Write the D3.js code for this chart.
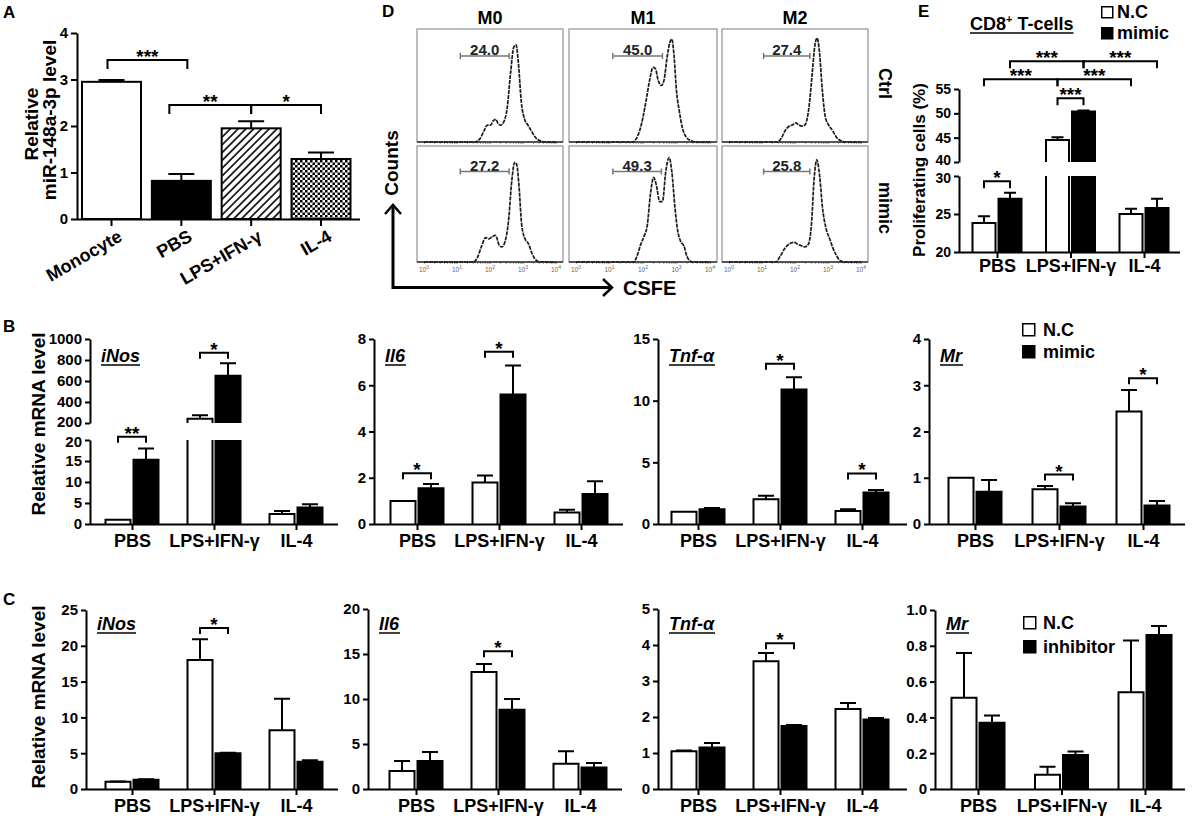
<!DOCTYPE html>
<html>
<head>
<meta charset="utf-8">
<script src="https://cdn.jsdelivr.net/npm/d3@7"></script>
<style>
  body { margin: 0; background: #fff; }
</style>
</head>
<body>
<svg id="fig" width="1192" height="825"></svg>
<script>
"use strict";

// ---------- data ----------
// Panel A: miR-148a-3p level
const aCats = ["Monocyte", "PBS", "LPS+IFN-γ", "IL-4"];
const aVals = [2.95, 0.82, 1.95, 1.29];
const aErrs = [0.04, 0.15, 0.15, 0.14];
const aTicks = [0, 1, 2, 3, 4];

// Panels B, C, E share the treatment groups
const groups = ["PBS", "LPS+IFN-γ", "IL-4"];

// Panel B: N.C vs mimic
const bInosNC = [1.0, 240, 2.4];
const bInosNCErr = [0, 35, 0.7];
const bInosMimic = [15.3, 650, 3.9];
const bInosMimicErr = [2.7, 120, 0.8];

const bIl6NC = [1.0, 1.8, 0.5];
const bIl6NCErr = [0, 0.3, 0.12];
const bIl6Mimic = [1.55, 5.6, 1.3];
const bIl6MimicErr = [0.18, 1.25, 0.55];

const bTnfNC = [1.0, 2.0, 1.05];
const bTnfNCErr = [0, 0.3, 0.15];
const bTnfMimic = [1.2, 10.9, 2.55];
const bTnfMimicErr = [0.1, 1.0, 0.2];

const bMrNC = [1.0, 0.75, 2.43];
const bMrNCErr = [0, 0.07, 0.47];
const bMrMimic = [0.7, 0.38, 0.4];
const bMrMimicErr = [0.25, 0.07, 0.1];

// Panel C: N.C vs inhibitor
const cInosNC = [1.0, 18.0, 8.2];
const cInosNCErr = [0.05, 2.9, 4.4];
const cInosInh = [1.3, 5.0, 3.8];
const cInosInhErr = [0.05, 0.05, 0.2];

const cIl6NC = [2.0, 13.0, 2.8];
const cIl6NCErr = [1.1, 0.9, 1.4];
const cIl6Inh = [3.1, 8.8, 2.4];
const cIl6InhErr = [1.0, 1.2, 0.5];

const cTnfNC = [1.05, 3.55, 2.22];
const cTnfNCErr = [0.02, 0.23, 0.17];
const cTnfInh = [1.15, 1.75, 1.93];
const cTnfInhErr = [0.13, 0.03, 0.04];

const cMrNC = [0.51, 0.08, 0.54];
const cMrNCErr = [0.25, 0.045, 0.29];
const cMrInh = [0.37, 0.19, 0.86];
const cMrInhErr = [0.04, 0.02, 0.05];

// Panel E: proliferating CD8+ T-cells (%)
const eNC = [23.8, 44.5, 25.0];
const eNCErr = [0.9, 0.6, 0.7];
const eMimic = [27.0, 50.4, 25.8];
const eMimicErr = [0.8, 0.2, 1.2];

// Panel D: CFSE histograms, [log10 intensity, relative count]
const dCols = ["M0", "M1", "M2"];
const dRows = ["Ctrl", "mimic"];
const histM0Ctrl = [[0,0],[1.55,0],[1.7,0.03],[1.82,0.1],[1.92,0.15],[2.02,0.15],[2.1,0.19],[2.18,0.2],[2.25,0.16],[2.33,0.15],[2.42,0.18],[2.52,0.3],[2.62,0.6],[2.72,0.84],[2.79,0.86],[2.86,0.7],[2.95,0.35],[3.05,0.2],[3.15,0.15],[3.25,0.1],[3.38,0.04],[3.52,0.01],[3.65,0],[4,0]];
const histM1Ctrl = [[0,0],[1.7,0],[1.8,0.03],[1.9,0.1],[2.0,0.22],[2.1,0.38],[2.2,0.55],[2.3,0.66],[2.37,0.65],[2.45,0.55],[2.55,0.5],[2.63,0.55],[2.72,0.75],[2.8,0.88],[2.86,0.91],[2.93,0.75],[3.0,0.45],[3.08,0.28],[3.18,0.12],[3.3,0.04],[3.45,0.01],[3.55,0],[4,0]];
const histM2Ctrl = [[0,0],[1.45,0],[1.58,0.03],[1.7,0.1],[1.82,0.14],[1.92,0.15],[2.02,0.17],[2.12,0.15],[2.22,0.14],[2.32,0.16],[2.42,0.3],[2.52,0.6],[2.6,0.85],[2.67,0.92],[2.74,0.8],[2.83,0.45],[2.92,0.22],[3.02,0.15],[3.14,0.1],[3.26,0.04],[3.4,0.01],[3.5,0],[4,0]];
const histM0Mimic = [[0,0],[1.5,0],[1.62,0.04],[1.75,0.14],[1.87,0.21],[1.97,0.2],[2.07,0.22],[2.17,0.23],[2.27,0.15],[2.36,0.13],[2.46,0.18],[2.56,0.35],[2.66,0.7],[2.75,0.86],[2.81,0.84],[2.88,0.65],[2.96,0.32],[3.06,0.2],[3.16,0.16],[3.28,0.07],[3.42,0.01],[3.55,0],[4,0]];
const histM1Mimic = [[0,0],[1.72,0],[1.82,0.05],[1.93,0.15],[2.03,0.22],[2.13,0.32],[2.22,0.58],[2.32,0.73],[2.4,0.66],[2.5,0.52],[2.58,0.52],[2.68,0.78],[2.78,0.9],[2.86,0.78],[2.95,0.48],[3.03,0.28],[3.12,0.18],[3.22,0.14],[3.31,0.05],[3.4,0.01],[3.5,0],[4,0]];
const histM2Mimic = [[0,0],[1.42,0],[1.55,0.05],[1.7,0.12],[1.85,0.16],[1.98,0.17],[2.1,0.15],[2.2,0.14],[2.3,0.13],[2.4,0.15],[2.5,0.33],[2.58,0.72],[2.66,0.88],[2.74,0.76],[2.84,0.45],[2.94,0.29],[3.05,0.2],[3.15,0.12],[3.25,0.06],[3.37,0.01],[3.5,0],[4,0]];
const gatePct = [["24.0", "45.0", "27.4"], ["27.2", "49.3", "25.8"]];
const gateRange = [[[1.1, 2.58], [1.1, 2.58], [1.05, 2.45]], [[1.1, 2.58], [1.1, 2.55], [1.05, 2.45]]];
const gateLevel = [0.76, 0.78];

// ---------- helpers ----------
const FONT = "'Liberation Sans', Arial, Helvetica, sans-serif";
const svg = d3.select("#fig");

const defs = svg.append("defs");
const hatch = defs.append("pattern").attr("id", "hatch").attr("patternUnits", "userSpaceOnUse")
  .attr("width", 5.5).attr("height", 5.5).attr("patternTransform", "rotate(45)");
hatch.append("rect").attr("width", 5.5).attr("height", 5.5).attr("fill", "#fff");
hatch.append("line").attr("x1", 1).attr("x2", 1).attr("y1", 0).attr("y2", 5.5)
  .attr("stroke", "#000").attr("stroke-width", 1.6);
const checker = defs.append("pattern").attr("id", "checker").attr("patternUnits", "userSpaceOnUse")
  .attr("width", 5).attr("height", 5);
checker.append("rect").attr("width", 5).attr("height", 5).attr("fill", "#fff");
checker.append("rect").attr("width", 2.5).attr("height", 2.5).attr("fill", "#000");
checker.append("rect").attr("x", 2.5).attr("y", 2.5).attr("width", 2.5).attr("height", 2.5).attr("fill", "#000");

function label(g, txt, x, y, size, opts = {}) {
  const t = g.append("text")
    .attr("x", x).attr("y", y)
    .attr("font-family", FONT).attr("font-size", size).attr("font-weight", "bold")
    .attr("fill", opts.fill || "#000")
    .attr("text-anchor", opts.anchor || "start")
    .text(txt);
  if (opts.rotate) t.attr("transform", `rotate(${opts.rotate},${x},${y})`);
  if (opts.italic) t.attr("font-style", "italic");
  return t;
}

function styleAxis(sel, size) {
  sel.attr("font-family", FONT).attr("font-size", size).attr("font-weight", "bold");
  sel.selectAll("path, line").attr("stroke", "#000").attr("stroke-width", 2);
  sel.selectAll("text").attr("fill", "#000");
}

function bracket(g, x1, x2, yL, leg, txt) {
  g.append("path")
    .attr("d", `M${x1},${yL + leg}V${yL}H${x2}V${yL + leg}`)
    .attr("fill", "none").attr("stroke", "#000").attr("stroke-width", 2);
  label(g, txt, (x1 + x2) / 2, yL + 3, 19, { anchor: "middle" });
}

function underlinedLabel(g, txt, x, y, size, italic) {
  const t = label(g, txt, x, y, size, { italic: italic });
  const bb = t.node().getBBox();
  g.append("line").attr("x1", bb.x).attr("x2", bb.x + bb.width)
    .attr("y1", y + 3).attr("y2", y + 3)
    .attr("stroke", "#000").attr("stroke-width", 1.5);
  return t;
}

function legend(g, lg, names) {
  const lgG = g.append("g").attr("transform", `translate(${lg.x},${lg.y})`);
  names.forEach((name, i) => {
    lgG.append("rect").attr("x", 0.75).attr("y", i * lg.dy + 0.75)
      .attr("width", lg.sq).attr("height", lg.sq)
      .attr("fill", i === 0 ? "#fff" : "#000").attr("stroke", "#000").attr("stroke-width", 1.5);
    label(lgG, name, lg.tx, i * lg.dy + lg.sq + 1, 18);
  });
}

// grouped bar chart with optional broken y axis
function barPanel(cfg) {
  const g = svg.append("g");
  const x = d3.scalePoint().domain(groups).range([cfg.c0, cfg.c0 + 2 * cfg.step]);
  const segs = cfg.segs.map(s => Object.assign({}, s, {
    y: d3.scaleLinear().domain(s.domain).range(s.range)
  }));
  const yOf = v => {
    let s = segs[0];
    for (const t of segs) if (v >= t.domain[0]) s = t;
    return s.y(v);
  };
  const bw = cfg.bw || 25, gap = 3, capW = cfg.capW || 16;
  const series = [
    { vals: cfg.nc, errs: cfg.ncErr, fill: "#fff", off: -gap / 2 - bw },
    { vals: cfg.tr, errs: cfg.trErr, fill: "#000", off: gap / 2 }
  ];
  const cx = (gi, si) => x(groups[gi]) + series[si].off + bw / 2;

  series.forEach(s => {
    groups.forEach((grp, gi) => {
      const v = s.vals[gi];
      const left = x(grp) + s.off;
      segs.forEach(sg => {
        if (v <= sg.domain[0]) return;
        const closed = v <= sg.domain[1];
        const yb = sg.y(sg.domain[0]);
        const yt = sg.y(Math.min(v, sg.domain[1]));
        g.append("rect").attr("x", left).attr("y", yt)
          .attr("width", bw).attr("height", yb - yt).attr("fill", s.fill);
        g.append("path")
          .attr("d", closed
            ? `M${left},${yb}V${yt}H${left + bw}V${yb}`
            : `M${left},${yb}V${yt}M${left + bw},${yt}V${yb}`)
          .attr("fill", "none").attr("stroke", "#000").attr("stroke-width", 2);
      });
      const e = s.errs[gi];
      if (e > 0) {
        const c = left + bw / 2;
        const yt = yOf(v + e);
        g.append("path")
          .attr("d", `M${c},${yOf(v)}V${yt}M${c - capW / 2},${yt}H${c + capW / 2}`)
          .attr("fill", "none").attr("stroke", "#000").attr("stroke-width", 2);
      }
    });
  });

  // y axis (one piece per segment); labels either side of a break are pushed apart
  segs.forEach((sg, si) => {
    const ax = g.append("g").attr("transform", `translate(${cfg.axisX},0)`)
      .call(d3.axisLeft(sg.y).tickValues(sg.ticks).tickSize(5).tickSizeOuter(0)
        .tickPadding(3).tickFormat(cfg.fmt || (d => d)))
      .call(styleAxis, cfg.tickSize || 15);
    if (segs.length > 1) {
      ax.selectAll(".tick text")
        .filter(d => (si > 0 && d === sg.domain[0]) || (si < segs.length - 1 && d === sg.domain[1]))
        .attr("dy", d => (d === sg.domain[0] ? "0.2em" : "0.45em"));
    }
  });

  // x axis
  const yBase = segs[0].range[0];
  const xa = g.append("g").attr("transform", `translate(0,${yBase})`)
    .call(d3.axisBottom(x).tickSize(6).tickPadding(cfg.xPad == null ? 4 : cfg.xPad))
    .call(styleAxis, 18);
  xa.select(".domain").remove();
  g.append("line")
    .attr("x1", cfg.axisX).attr("x2", x(groups[2]) + cfg.tail)
    .attr("y1", yBase + 0.5).attr("y2", yBase + 0.5)
    .attr("stroke", "#000").attr("stroke-width", 2);

  (cfg.brackets || []).forEach(b => {
    bracket(g, cx(b.a, b.sa), cx(b.b, b.sb), yOf(b.level), cfg.leg || 6, b.txt);
  });

  if (cfg.gene) underlinedLabel(g, cfg.gene, cfg.axisX + 11, cfg.geneY, 18, true);
  if (cfg.legend) legend(g, cfg.legend, ["N.C", cfg.trName]);
  return g;
}

// ---------- panel A ----------
(function panelA() {
  const g = svg.append("g");
  const x = d3.scalePoint().domain(aCats).range([111.5, 321]);
  const y = d3.scaleLinear().domain([0, 4]).range([219, 33]);
  const bw = 59;
  const fills = ["#fff", "#000", "url(#hatch)", "url(#checker)"];

  g.selectAll("rect.bar").data(aCats).join("rect")
    .attr("class", "bar")
    .attr("x", d => x(d) - bw / 2)
    .attr("y", (d, i) => y(aVals[i]))
    .attr("width", bw)
    .attr("height", (d, i) => y(0) - y(aVals[i]))
    .attr("fill", (d, i) => fills[i])
    .attr("stroke", "#000").attr("stroke-width", 2);

  g.selectAll("path.err").data(aCats).join("path")
    .attr("class", "err")
    .attr("d", (d, i) => {
      const c = x(d), yt = y(aVals[i] + aErrs[i]);
      return `M${c},${y(aVals[i])}V${yt}M${c - 13},${yt}H${c + 13}`;
    })
    .attr("fill", "none").attr("stroke", "#000").attr("stroke-width", 2);

  g.append("g").attr("transform", "translate(77,0)")
    .call(d3.axisLeft(y).tickValues(aTicks).tickSize(6).tickSizeOuter(0).tickPadding(3)
      .tickFormat(d3.format("d")))
    .call(styleAxis, 15);

  g.append("line").attr("x1", 77).attr("x2", 360).attr("y1", 219.5).attr("y2", 219.5)
    .attr("stroke", "#000").attr("stroke-width", 2);
  g.selectAll("line.xt").data(aCats).join("line")
    .attr("class", "xt")
    .attr("x1", d => x(d)).attr("x2", d => x(d))
    .attr("y1", 219).attr("y2", 226)
    .attr("stroke", "#000").attr("stroke-width", 2);
  aCats.forEach(d => label(g, d, x(d) + 12, 240, 18, { anchor: "end", rotate: -30 }));

  bracket(g, x("Monocyte") - 4, x("PBS") + 6, y(3.42), 9, "***");
  bracket(g, x("PBS") - 12, x("LPS+IFN-γ"), y(2.45), 9, "**");
  bracket(g, x("LPS+IFN-γ"), x("IL-4"), y(2.45), 9, "*");

  label(g, "Relative", 38, 124, 19, { anchor: "middle", rotate: -90 });
  label(g, "miR-148a-3p level", 56, 120, 19, { anchor: "middle", rotate: -90 });
  label(g, "A", 3, 18, 17);
})();

// ---------- panel D ----------
(function panelD() {
  const g = svg.append("g");
  const hists = [[histM0Ctrl, histM1Ctrl, histM2Ctrl], [histM0Mimic, histM1Mimic, histM2Mimic]];
  const colX = [417, 569, 722], colW = [146, 148, 146];
  const rowY = [29, 146], rowH = [113, 116];

  dRows.forEach((row, ri) => {
    dCols.forEach((col, ci) => {
      const x0 = colX[ci], y0 = rowY[ri], w = colW[ci], h = rowH[ri];
      const xs = d3.scaleLog().domain([1, 1e4]).range([x0 + 7, x0 + w - 7]);
      const ys = d3.scaleLinear().domain([0, 1]).range([y0 + h, y0]);

      g.append("rect").attr("x", x0).attr("y", y0).attr("width", w).attr("height", h)
        .attr("fill", "none").attr("stroke", "#9a9a9a").attr("stroke-width", 1.3);

      const ax = g.append("g").attr("transform", `translate(0,${y0 + h})`)
        .call(d3.axisBottom(xs).tickValues(xs.ticks()).tickSize(2).tickFormat(""));
      ax.select(".domain").remove();
      ax.selectAll(".tick line").attr("stroke", "#888").attr("stroke-width", 0.8);
      g.append("line").attr("x1", x0).attr("x2", x0 + w).attr("y1", y0 + h).attr("y2", y0 + h)
        .attr("stroke", "#333").attr("stroke-width", 1.4);

      if (ri === 1) {
        [0, 1, 2, 3, 4].forEach(k => {
          const t = label(g, "10", xs(Math.pow(10, k)), y0 + h + 10, 6.5, { anchor: "middle", fill: "#666" });
          t.attr("font-weight", "normal");
          t.append("tspan").attr("dy", -3).attr("font-size", 5).text(k);
        });
      }

      const line = d3.line()
        .x(d => xs(Math.pow(10, d[0])))
        .y(d => ys(d[1]))
        .curve(d3.curveMonotoneX);
      g.append("path").datum(hists[ri][ci]).attr("d", line)
        .attr("fill", "none").attr("stroke", "#1a1a1a").attr("stroke-width", 1.7)
        .attr("stroke-dasharray", "4,1");

      const gr = gateRange[ri][ci];
      const gx1 = xs(Math.pow(10, gr[0])), gx2 = xs(Math.pow(10, gr[1]));
      const gy = ys(gateLevel[ri]);
      g.append("path")
        .attr("d", `M${gx1},${gy - 3}V${gy + 3}M${gx1},${gy}H${gx2}M${gx2},${gy - 3}V${gy + 3}`)
        .attr("fill", "none").attr("stroke", "#777").attr("stroke-width", 1.5);
      label(g, gatePct[ri][ci], (gx1 + gx2) / 2, gy - 1, 15, { anchor: "middle", fill: "#222" });

      if (ri === 0) label(g, col, x0 + w / 2, 24, 18, { anchor: "middle" });
    });
    const cy = rowY[ri] + rowH[ri] / 2 - (ri === 0 ? 2 : -4);
    label(g, row, 879, cy, 18, { anchor: "middle", rotate: 90 });
  });

  // CFSE / Counts axes
  g.append("path").attr("d", "M393,205V287.5H612")
    .attr("fill", "none").attr("stroke", "#000").attr("stroke-width", 3);
  g.append("path").attr("d", "M385,214L393,205L401,214M603,279L612,287.5L603,296")
    .attr("fill", "none").attr("stroke", "#000").attr("stroke-width", 2.5);
  label(g, "CSFE", 623, 295, 20);
  label(g, "Counts", 398, 163, 19, { anchor: "middle", rotate: -90 });
  label(g, "D", 382, 17, 17);
})();

// ---------- panel E ----------
(function panelE() {
  const g = barPanel({
    axisX: 959, c0: 997, step: 73.5, tail: 36, bw: 23, capW: 12, xPad: 1, leg: 7, tickSize: 14,
    segs: [
      { domain: [20, 30], range: [252, 176], ticks: [20, 25, 30] },
      { domain: [40, 55], range: [162, 89], ticks: [40, 45, 50, 55] }
    ],
    nc: eNC, ncErr: eNCErr, tr: eMimic, trErr: eMimicErr,
    brackets: [
      { a: 0, sa: 0, b: 0, sb: 1, level: 29.3, txt: "*" },
      { a: 1, sa: 0, b: 1, sb: 1, level: 53.1, txt: "***" },
      { a: 0, sa: 0, b: 1, sb: 0, level: 57.0, txt: "***" },
      { a: 1, sa: 0, b: 2, sb: 0, level: 57.0, txt: "***" },
      { a: 0, sa: 1, b: 1, sb: 1, level: 60.7, txt: "***" },
      { a: 1, sa: 1, b: 2, sb: 1, level: 60.7, txt: "***" }
    ],
    legend: { x: 1101, y: 6, dy: 21, sq: 11, tx: 16 }, trName: "mimic"
  });
  const t = label(g, "CD8", 970, 30, 18);
  t.append("tspan").attr("dy", -7).attr("font-size", 11).text("+");
  t.append("tspan").attr("dy", 7).text(" T-cells");
  const bb = t.node().getBBox();
  g.append("line").attr("x1", bb.x).attr("x2", bb.x + bb.width).attr("y1", 33).attr("y2", 33)
    .attr("stroke", "#000").attr("stroke-width", 1.5);
  label(g, "Proliferating cells (%)", 925, 170, 17, { anchor: "middle", rotate: -90 });
  label(g, "E", 918, 17, 17);
})();

// ---------- panel B ----------
const fmtDec = d => (d === 0 ? "0" : d3.format(".1f")(d));

barPanel({
  axisX: 90, c0: 132, step: 82, tail: 42, gene: "iNos", geneY: 362,
  segs: [
    { domain: [0, 20], range: [524, 440], ticks: [0, 5, 10, 15, 20] },
    { domain: [200, 1000], range: [423, 339], ticks: [200, 400, 600, 800, 1000] }
  ],
  nc: bInosNC, ncErr: bInosNCErr, tr: bInosMimic, trErr: bInosMimicErr,
  brackets: [
    { a: 0, sa: 0, b: 0, sb: 1, level: 20.8, txt: "**" },
    { a: 1, sa: 0, b: 1, sb: 1, level: 870, txt: "*" }
  ]
});
barPanel({
  axisX: 374, c0: 417, step: 82, tail: 42, gene: "Il6", geneY: 362,
  segs: [{ domain: [0, 8], range: [524, 339], ticks: [0, 2, 4, 6, 8] }],
  nc: bIl6NC, ncErr: bIl6NCErr, tr: bIl6Mimic, trErr: bIl6MimicErr,
  brackets: [
    { a: 0, sa: 0, b: 0, sb: 1, level: 2.2, txt: "*" },
    { a: 1, sa: 0, b: 1, sb: 1, level: 7.45, txt: "*" }
  ]
});
barPanel({
  axisX: 658, c0: 698, step: 82, tail: 45, gene: "Tnf-α", geneY: 362,
  segs: [{ domain: [0, 15], range: [524, 339], ticks: [0, 5, 10, 15] }],
  nc: bTnfNC, ncErr: bTnfNCErr, tr: bTnfMimic, trErr: bTnfMimicErr,
  brackets: [
    { a: 1, sa: 0, b: 1, sb: 1, level: 13.0, txt: "*" },
    { a: 2, sa: 0, b: 2, sb: 1, level: 4.1, txt: "*" }
  ]
});
barPanel({
  axisX: 929, c0: 975, step: 84, tail: 42, gene: "Mr", geneY: 362,
  segs: [{ domain: [0, 4], range: [524, 339], ticks: [0, 1, 2, 3, 4] }],
  nc: bMrNC, ncErr: bMrNCErr, tr: bMrMimic, trErr: bMrMimicErr,
  brackets: [
    { a: 1, sa: 0, b: 1, sb: 1, level: 1.07, txt: "*" },
    { a: 2, sa: 0, b: 2, sb: 1, level: 3.15, txt: "*" }
  ],
  legend: { x: 1022, y: 323, dy: 22, sq: 12, tx: 21 }, trName: "mimic"
});

// ---------- panel C ----------
barPanel({
  axisX: 86, c0: 132, step: 82, tail: 42, gene: "iNos", geneY: 630,
  segs: [{ domain: [0, 25], range: [789, 610], ticks: [0, 5, 10, 15, 20, 25] }],
  nc: cInosNC, ncErr: cInosNCErr, tr: cInosInh, trErr: cInosInhErr,
  brackets: [{ a: 1, sa: 0, b: 1, sb: 1, level: 22.5, txt: "*" }]
});
barPanel({
  axisX: 368, c0: 416, step: 82, tail: 42, gene: "Il6", geneY: 630,
  segs: [{ domain: [0, 20], range: [789, 609], ticks: [0, 5, 10, 15, 20] }],
  nc: cIl6NC, ncErr: cIl6NCErr, tr: cIl6Inh, trErr: cIl6InhErr,
  brackets: [{ a: 1, sa: 0, b: 1, sb: 1, level: 15.3, txt: "*" }]
});
barPanel({
  axisX: 658, c0: 698, step: 82, tail: 45, gene: "Tnf-α", geneY: 630,
  segs: [{ domain: [0, 5], range: [789, 609], ticks: [0, 1, 2, 3, 4, 5] }],
  nc: cTnfNC, ncErr: cTnfNCErr, tr: cTnfInh, trErr: cTnfInhErr,
  brackets: [{ a: 1, sa: 0, b: 1, sb: 1, level: 4.05, txt: "*" }]
});
barPanel({
  axisX: 935, c0: 978, step: 83.5, tail: 40, gene: "Mr", geneY: 630, fmt: fmtDec,
  segs: [{ domain: [0, 1], range: [789, 610], ticks: [0, 0.2, 0.4, 0.6, 0.8, 1.0] }],
  nc: cMrNC, ncErr: cMrNCErr, tr: cMrInh, trErr: cMrInhErr,
  legend: { x: 1023, y: 616, dy: 24, sq: 12, tx: 20 }, trName: "inhibitor"
});

// shared labels
label(svg, "Relative mRNA level", 45, 424, 19, { anchor: "middle", rotate: -90 });
label(svg, "Relative mRNA level", 45, 697, 19, { anchor: "middle", rotate: -90 });
label(svg, "B", 3, 332, 17);
label(svg, "C", 3, 605, 17);
</script>
</body>
</html>
